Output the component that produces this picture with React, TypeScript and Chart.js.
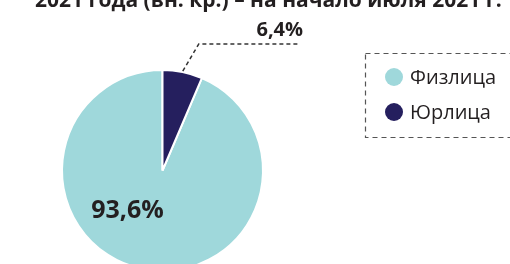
import React, { useEffect, useRef } from "react";
import { Chart, registerables } from "chart.js";

Chart.register(...registerables);

const categories = ["Физлица", "Юрлица"];
const shares = [93.6, 6.4];
const shareLabels = ["93,6%", "6,4%"];
const colors = ["#9fd8db", "#251f5e"];
const titleText = "2021 года (вн. кр.) – на начало июля 2021 г.";

const FONT = "'Open Sans', 'DejaVu Sans', sans-serif";

const overlayPlugin = {
  id: "overlay",
  afterDraw(chart: any) {
    const ctx = chart.ctx as CanvasRenderingContext2D;
    const meta = chart.getDatasetMeta(0);
    const arcs = meta.data;
    ctx.save();

    // Title (partially cut at top)
    ctx.fillStyle = "#231f20";
    ctx.font = `bold 21px ${FONT}`;
    ctx.textAlign = "left";
    ctx.textBaseline = "alphabetic";
    ctx.fillText(titleText, 35, 6.5);

    // Big slice label
    const big = arcs[0].getProps(["x", "y"], true);
    ctx.font = `bold 25px ${FONT}`;
    ctx.textAlign = "center";
    ctx.fillText(shareLabels[0], big.x - 35, big.y + 47);

    // Small slice leader line + label
    const sm = arcs[1].getProps(["x", "y", "startAngle", "endAngle", "outerRadius"], true);
    const mid = (sm.startAngle + sm.endAngle) / 2;
    const sx = sm.x + Math.cos(mid) * (sm.outerRadius + 1);
    const sy = sm.y + Math.sin(mid) * (sm.outerRadius + 1);
    ctx.strokeStyle = "#333333";
    ctx.lineWidth = 1.5;
    ctx.setLineDash([4, 3]);
    ctx.beginPath();
    ctx.moveTo(sx, sy);
    ctx.lineTo(sx + 16, sy - 27);
    ctx.lineTo(sx + 115, sy - 27);
    ctx.stroke();
    ctx.setLineDash([]);
    ctx.font = `bold 20px ${FONT}`;
    ctx.textAlign = "center";
    ctx.fillText(shareLabels[1], sx + 97, sy - 35);

    // Legend box
    ctx.strokeStyle = "#555555";
    ctx.lineWidth = 1.2;
    ctx.setLineDash([5, 4]);
    ctx.strokeRect(365.5, 53.5, 180, 84);
    ctx.setLineDash([]);
    const rows = [77, 112];
    categories.forEach((c, i) => {
      ctx.fillStyle = colors[i];
      ctx.beginPath();
      ctx.arc(394, rows[i], 9, 0, Math.PI * 2);
      ctx.fill();
      ctx.fillStyle = "#231f20";
      ctx.font = `20px ${FONT}`;
      ctx.textAlign = "left";
      ctx.textBaseline = "middle";
      ctx.fillText(c, 410, rows[i] + 1);
    });

    ctx.restore();
  },
};

export default function App() {
  const ref = useRef<HTMLCanvasElement>(null);
  useEffect(() => {
    const chart = new Chart(ref.current!, {
      type: "pie",
      data: {
        labels: categories,
        datasets: [
          {
            data: shares,
            backgroundColor: colors,
            borderColor: "#ffffff",
            borderWidth: 2,
          },
        ],
      },
      options: {
        responsive: false,
        maintainAspectRatio: false,
        animation: false,
        rotation: (shares[1] / 100) * 360,
        layout: { padding: { left: 61, right: 246, top: 69, bottom: 28 } },
        plugins: {
          legend: { display: false },
          title: { display: false },
          tooltip: { enabled: false },
        },
      },
      plugins: [overlayPlugin],
    });
    return () => chart.destroy();
  }, []);
  return (
    <div
      style={{
        position: "absolute",
        left: 0,
        top: 0,
        width: 510,
        height: 264,
        overflow: "hidden",
        background: "#ffffff",
      }}
    >
      <canvas ref={ref} width={510} height={300} style={{ display: "block" }} />
    </div>
  );
}
